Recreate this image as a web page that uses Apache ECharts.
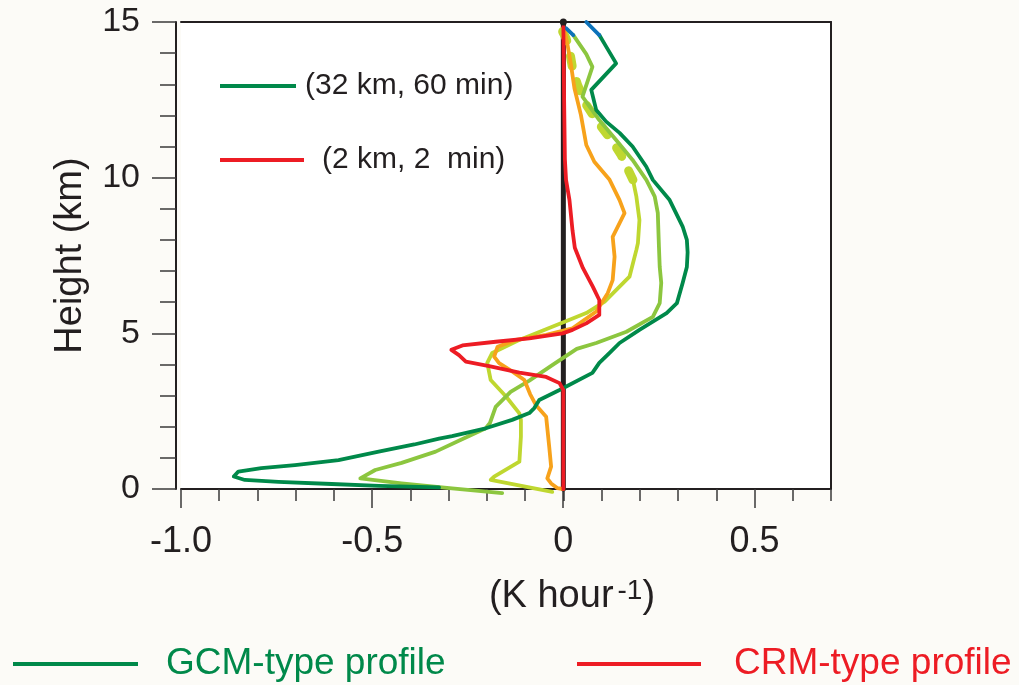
<!DOCTYPE html>
<html>
<head>
<meta charset="utf-8">
<script src="https://cdn.jsdelivr.net/npm/echarts@6/dist/echarts.min.js"></script>
<style>
html,body{margin:0;padding:0;background:#FCFBF7;}
#chart{width:1019px;height:685px;}
</style>
</head>
<body>
<div id="chart"></div>
<script>
// ---- data (x: K hour^-1, y: height km) ----
const xMajorTicks = [-1, -0.5, 0, 0.5];
const xTickLabels = ['-1.0', '-0.5', '0', '0.5'];
const yMajorTicks = [0, 5, 10, 15];
const yTickLabels = ['0', '5', '10', '15'];

const gcmProfile = [[-0.325,0.05],[-0.483,0.10],[-0.606,0.16],[-0.745,0.23],[-0.833,0.29],[-0.862,0.40],[-0.850,0.56],[-0.790,0.67],[-0.702,0.77],[-0.588,0.93],[-0.483,1.20],[-0.390,1.43],[-0.325,1.62],[-0.291,1.70],[-0.203,1.95],[-0.134,2.22],[-0.089,2.44],[-0.076,2.60],[-0.063,2.86],[-0.010,3.18],[0.076,3.73],[0.094,4.05],[0.121,4.37],[0.147,4.69],[0.199,5.11],[0.270,5.65],[0.297,5.97],[0.312,6.62],[0.323,7.13],[0.325,7.60],[0.323,8.00],[0.312,8.43],[0.278,9.28],[0.234,9.93],[0.217,10.35],[0.181,11.00],[0.147,11.44],[0.112,11.80],[0.086,12.17],[0.073,12.82],[0.138,13.67],[0.112,14.21],[0.094,14.58]];
const medGreenProfile = [[-0.160,-0.13],[-0.291,0.02],[-0.423,0.18],[-0.531,0.34],[-0.492,0.61],[-0.423,0.84],[-0.334,1.20],[-0.265,1.60],[-0.203,1.95],[-0.192,2.12],[-0.177,2.64],[-0.138,3.12],[-0.089,3.48],[-0.029,3.98],[0.035,4.50],[0.086,4.69],[0.165,5.05],[0.234,5.53],[0.252,5.97],[0.256,6.62],[0.252,7.14],[0.250,7.78],[0.247,8.87],[0.239,9.39],[0.226,9.71],[0.217,9.93],[0.181,10.57],[0.138,11.21],[0.094,11.85],[0.050,12.60],[0.076,13.56],[0.060,13.97],[0.026,14.58]];
const limeProfile = [[-0.029,-0.09],[-0.190,0.29],[-0.181,0.40],[-0.115,0.88],[-0.111,1.68],[-0.111,2.22],[-0.115,2.43],[-0.150,2.97],[-0.190,3.50],[-0.199,4.05],[-0.186,4.37],[-0.120,4.76],[-0.029,5.21],[0.060,5.65],[0.108,6.02],[0.173,6.82],[0.191,7.68],[0.195,7.90],[0.199,8.64],[0.191,9.39],[0.182,9.93]];
const limeUpperProfile = [[0.182,9.93],[0.151,10.73],[0.129,11.16],[0.089,11.80],[0.060,12.34],[0.037,12.98],[0.024,13.51],[0.016,14.10],[0.007,14.48],[-0.008,14.84]];
const orangeProfile = [[0.0,0.0],[-0.016,0.03],[-0.032,0.18],[-0.042,0.34],[-0.032,0.72],[-0.037,1.36],[-0.045,2.32],[-0.072,2.70],[-0.087,3.05],[-0.102,3.50],[-0.133,3.77],[-0.168,4.04],[-0.181,4.25],[-0.172,4.57],[-0.124,4.79],[-0.045,4.95],[0.024,5.16],[0.086,5.70],[0.116,6.29],[0.129,6.71],[0.134,7.46],[0.129,8.10],[0.147,8.54],[0.160,8.86],[0.147,9.28],[0.121,9.93],[0.081,10.51],[0.060,11.05],[0.046,12.01],[0.029,12.87],[0.020,13.62],[0.011,14.26],[0.003,14.74]];
const crmProfile = [[0,0],[0,3.18],[-0.010,3.40],[-0.045,3.60],[-0.115,3.74],[-0.194,3.95],[-0.255,4.09],[-0.273,4.30],[-0.293,4.47],[-0.264,4.61],[-0.177,4.73],[-0.089,4.84],[-0.002,5.00],[0.024,5.11],[0.060,5.32],[0.094,5.59],[0.094,6.07],[0.077,6.50],[0.051,7.10],[0.030,7.75],[0.024,8.30],[0.016,9.28],[0.007,9.93],[0.004,10.60],[0.002,12.50],[0.0,14.85]];
const blueTopA = [[0.094,14.58],[0.060,15.0]];
const blueTopB = [[0.026,14.58],[0.007,14.80]];
const zeroLine = [[0,0],[0,15]];

const legendInnerNames = {'GCM-type profile':'(32 km, 60 min)','CRM-type profile':'(2 km, 2  min)'};

const C = {dark:'#00894A', med:'#8CC63F', lime:'#BFD730', orange:'#F7A21B', red:'#ED1C24', blue:'#0C72BA', ink:'#231F20'};
const FONT = "'Liberation Sans', Arial, Helvetica, sans-serif";

function lineSeries(name, data, color, width, extra) {
  return Object.assign({
    name: name, type: 'line', data: data, xAxisIndex: 0, yAxisIndex: 0,
    showSymbol: false, symbol: 'none', clip: false, silent: true,
    itemStyle: {color: color},
    lineStyle: {color: color, width: width, cap: 'round', join: 'round'}
  }, extra || {});
}

const chart = echarts.init(document.getElementById('chart'), null, {renderer: 'canvas'});
const xLab = function (v) {
  for (let i = 0; i < xMajorTicks.length; i++) if (Math.abs(v - xMajorTicks[i]) < 1e-6) return xTickLabels[i];
  return '';
};
const yLab = function (v) {
  for (let i = 0; i < yMajorTicks.length; i++) if (Math.abs(v - yMajorTicks[i]) < 1e-6) return yTickLabels[i];
  return '';
};
const tickStyle = {color: '#3a3a3a', width: 1.5};
const LW = 3.8;
const option = {
  backgroundColor: '#FCFBF7',
  animation: false,
  grid: [
    {left: 181, right: 188, top: 22, bottom: 196, show: true, backgroundColor: '#ffffff', borderWidth: 0},
    {left: 181, width: 573.3, top: 22, bottom: 196, show: false}
  ],
  xAxis: [
    {type: 'value', gridIndex: 0, min: -1, max: 0.7, interval: 0.1, position: 'bottom',
     axisLine: {show: true, onZero: false, lineStyle: {color: C.ink, width: 2}},
     axisTick: {show: true, length: 12, lineStyle: tickStyle},
     axisLabel: {formatter: xLab, margin: 35, fontSize: 36, color: C.ink, fontFamily: FONT},
     splitLine: {show: false},
     name: '{a|(K hour}{b|-1}{a|)}', nameLocation: 'middle', nameGap: 88,
     nameTextStyle: {padding: [0, 0, 0, 132], rich: {
       a: {fontSize: 38, fontFamily: FONT, color: C.ink, lineHeight: 40},
       b: {fontSize: 28, fontFamily: FONT, color: C.ink, verticalAlign: 'top', padding: [0, 0, 0, 4]}
     }}},
    {type: 'value', gridIndex: 1, min: -1, max: 0.5, interval: 0.5, position: 'bottom',
     axisLine: {show: false, onZero: false}, axisTick: {show: true, length: 19, lineStyle: tickStyle},
     axisLabel: {show: false}, splitLine: {show: false}},
    {type: 'value', gridIndex: 0, min: -1, max: 0.7, position: 'top',
     axisLine: {show: true, onZero: false, lineStyle: {color: C.ink, width: 2}},
     axisTick: {show: false}, axisLabel: {show: false}, splitLine: {show: false}}
  ],
  yAxis: [
    {type: 'value', gridIndex: 0, min: 0, max: 15, interval: 1, position: 'left', offset: 5,
     axisLine: {show: true, onZero: false, lineStyle: {color: C.ink, width: 2}},
     axisTick: {show: true, length: 16, lineStyle: tickStyle},
     axisLabel: {show: false}, splitLine: {show: false}},
    {type: 'value', gridIndex: 0, min: 0, max: 15, interval: 5, position: 'left', offset: 5,
     axisLine: {show: false, onZero: false},
     axisTick: {show: true, length: 24, lineStyle: tickStyle},
     axisLabel: {formatter: yLab, margin: 36, fontSize: 34, color: C.ink, fontFamily: FONT},
     splitLine: {show: false},
     name: 'Height (km)', nameLocation: 'middle', nameGap: 86,
     nameTextStyle: {fontSize: 38, fontFamily: FONT, color: C.ink}},
    {type: 'value', gridIndex: 0, min: 0, max: 15, position: 'right',
     axisLine: {show: true, onZero: false, lineStyle: {color: C.ink, width: 2}},
     axisTick: {show: false}, axisLabel: {show: false}, splitLine: {show: false}},
    {type: 'value', gridIndex: 1, min: 0, max: 15, show: false}
  ],
  legend: [
    {data: ['GCM-type profile'], left: 220, top: 66, padding: 0, selectedMode: false, icon: 'rect',
     itemWidth: 76, itemHeight: 4, itemStyle: {borderWidth: 0},
     formatter: function (n) { return legendInnerNames[n]; },
     textStyle: {fontSize: 30, fontFamily: FONT, color: C.ink, padding: [0, 0, 0, 4], lineHeight: 40}},
    {data: ['CRM-type profile'], left: 220, top: 140, padding: 0, selectedMode: false, icon: 'rect',
     itemWidth: 84, itemHeight: 4, itemStyle: {borderWidth: 0},
     formatter: function (n) { return legendInnerNames[n]; },
     textStyle: {fontSize: 30, fontFamily: FONT, color: C.ink, padding: [0, 0, 0, 13], lineHeight: 40}},
    {data: [{name: 'GCM-type profile', textStyle: {color: C.dark}}], left: 13, top: 644, padding: 0, selectedMode: false, icon: 'rect',
     itemWidth: 125, itemHeight: 4, itemStyle: {borderWidth: 0},
     textStyle: {fontSize: 37, fontFamily: FONT, padding: [0, 0, 0, 23], lineHeight: 40}},
    {data: [{name: 'CRM-type profile', textStyle: {color: C.red}}], left: 577, top: 644, padding: 0, selectedMode: false, icon: 'rect',
     itemWidth: 124, itemHeight: 4, itemStyle: {borderWidth: 0},
     textStyle: {fontSize: 37, fontFamily: FONT, padding: [0, 0, 0, 28], lineHeight: 40}}
  ],
  series: [
    lineSeries('zero', [{value: zeroLine[0], symbol: 'none'}, {value: zeroLine[1], symbol: 'circle', symbolSize: 7}], C.ink, 5, {showSymbol: true}),
    lineSeries('lime', limeProfile, C.lime, LW),
    lineSeries('limeUpper', limeUpperProfile, C.lime, 9, {lineStyle: {color: C.lime, width: 9, cap: 'round', join: 'round', type: [10, 16]}}),
    lineSeries('medGreen', medGreenProfile, C.med, LW),
    lineSeries('orange', orangeProfile, C.orange, LW),
    lineSeries('GCM-type profile', gcmProfile, C.dark, LW),
    lineSeries('blueA', blueTopA, C.blue, LW),
    lineSeries('blueB', blueTopB, C.blue, LW),
    lineSeries('CRM-type profile', crmProfile, C.red, LW)
  ]
};
chart.setOption(option);
</script>
</body>
</html>
